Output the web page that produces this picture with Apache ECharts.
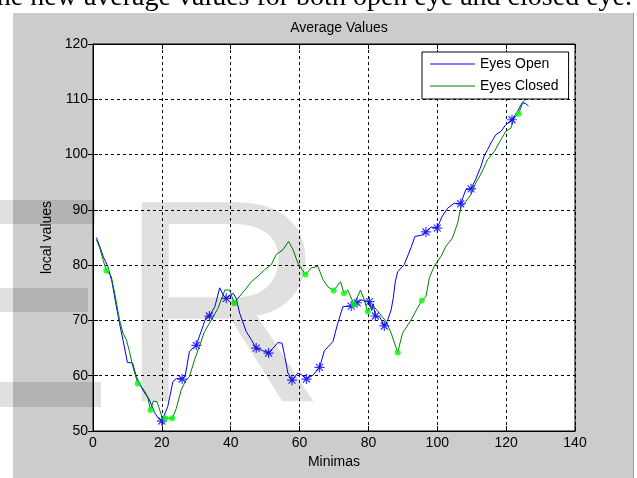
<!DOCTYPE html>
<html>
<head>
<meta charset="utf-8">
<script src="https://cdn.jsdelivr.net/npm/echarts@6/dist/echarts.min.js"></script>
<style>
  html, body { margin: 0; padding: 0; background: #fff; }
  #chart { width: 637px; height: 478px; }
</style>
</head>
<body>
<div id="chart"></div>
<script>
// Axis ranges and ticks
const xTicks = [0, 20, 40, 60, 80, 100, 120, 140];
const yTicks = [50, 60, 70, 80, 90, 100, 110, 120];

// Eyes Open: average value at each minima
const openX = [1,2,3,4.3,5.5,6.5,7.7,8.7,10,11.5,12.6,14.5,16.4,17.9,19,20,21.7,23.2,24.2,25.9,26.8,28,30,31.9,32.9,33.8,35.4,36.8,37.8,38.7,40.7,41.6,42.6,44.5,46,47.4,49,51,52.3,53.7,54.9,55.7,56.6,57.8,59.5,60.5,62,63.9,65.8,67.2,69.7,71.1,72.6,75,76.7,77.9,80.3,81,81.4,82,83.3,84.6,85.6,86.6,87.2,87.8,88.5,90.4,92.4,93.5,95.3,96.7,98.2,100,101.3,103,104.9,106.8,108.3,109.8,111.2,112.7,113.6,114.6,115.6,117,118.5,119.9,121.7,123.3,124.7,125.7,126.5];
const openY = [85,83.3,81.5,79.8,77,73.5,69.5,66.5,62.4,62.3,59.8,57.4,55.6,53.3,52.3,51.8,54.4,58.9,59.5,59.4,60,64.4,65.5,68.9,70.7,70.8,72.5,75.9,74.6,74.0,74.9,74.0,71.3,68.0,66.5,65.0,64.6,64.1,65,66.0,65.9,63.5,60.5,59.2,60.5,60.2,59.4,60.1,61.5,64.5,66.2,69.5,72.5,72.6,73.2,73.7,73.4,71.8,73.0,70.8,70.6,69.0,70.1,71.9,74,77,78.8,80.1,83.2,85.2,85.4,86.0,86.9,86.7,88.7,90.3,91.2,91.1,93.7,93.8,95.6,97.9,99.7,100.9,102.1,103.6,104.2,105.4,106.3,107.8,109.4,109.2,108.8];
// Eyes Open: marked minima
const openMarkX = [20,25.9,30,33.8,38.7,47.4,51,57.8,62,65.8,75,76.7,80.3,82,84.6,96.7,100,106.8,109.8,121.7];
const openMarkY = [51.8,59.4,65.5,70.8,74.0,65.0,64.1,59.2,59.4,61.5,72.6,73.2,73.4,70.8,69.0,86.0,86.7,91.1,93.8,106.3];

// Eyes Closed: average value at each minima
const closedX = [1,2,3,3.9,5.3,6.3,7.7,8.7,9.7,10.6,11.6,13,14.5,15.9,16.7,17.5,18.6,20,21,23,24.2,25.6,27,28,29.5,30.9,32.4,34.4,36.3,38.3,39.7,41,42.1,44.1,46,47.9,49.9,51.8,53.2,55.2,56.8,58.1,59.5,61.7,63.4,65.3,66.8,68.2,69.9,71.9,72.9,74,75.8,77.7,78.8,79.8,81.2,83.2,85.1,86.6,88.5,89.9,92.4,94.3,95.5,96.7,97.7,99.1,101.1,102.5,104.4,105.9,106.9,107.8,109.8,111.2,112.7,114.6,116.5,118.5,119.9,121.4,122.3,123.6,124.7,125.5];
const closedY = [84.6,83,80.8,79.0,78.0,74.9,70.1,67.7,66.5,64.4,61.6,58.6,57.7,56.2,53.8,55.4,55.3,52.6,52.3,52.3,54.1,57.4,59.2,59.8,62.9,65.3,68.0,70.1,72.2,75.5,75.5,73.1,74.0,75.5,77.0,78.0,79.2,80.1,81.9,82.8,84.3,82.8,80.4,78.3,79.5,79.8,77.4,76.1,75.4,77.0,74.9,75.5,72.9,75.5,73.7,71.6,72.8,71.3,69.8,67.7,64.2,67.7,70.1,72.3,73.6,74.3,77.7,79.8,81.6,83.4,84.9,87.6,90.6,91.1,92.8,94.9,96.5,99.1,100.5,102.7,104.2,104.8,106.6,107.4,109.1,110.1];
// Eyes Closed: marked minima
const closedMarkX = [3.9,13,16.7,21,23,41,61.7,69.9,72.9,75.8,79.8,88.5,95.5,123.6];
const closedMarkY = [79.0,58.6,53.8,52.3,52.3,73.1,78.3,75.4,74.9,72.9,71.6,64.2,73.6,107.4];

const zip = (xs, ys) => xs.map((x, i) => [x, ys[i]]);

const FONT = '"Liberation Sans", Arial, Helvetica, sans-serif';
const asterisk = 'path://M5,0L5,10M0,5L10,5M1.5,1.5L8.5,8.5M1.5,8.5L8.5,1.5';
const gridDash = { type: [3, 3], color: '#000', width: 1 };
const BLUE = '#0000ff';
const GREEN = '#008000';

const chart = echarts.init(document.getElementById('chart'), null, { renderer: 'canvas' });

chart.setOption({
  animation: false,
  backgroundColor: '#cccccc',
  textStyle: { fontFamily: FONT },
  title: {
    text: 'Average Values',
    left: 334,
    textAlign: 'center',
    top: 16,
    textStyle: { fontFamily: FONT, fontSize: 14, fontWeight: 'normal', color: '#000' }
  },
  legend: {
    data: [
      { name: 'Eyes Open', icon: 'rect', itemStyle: { color: BLUE } },
      { name: 'Eyes Closed', icon: 'rect', itemStyle: { color: GREEN } }
    ],
    orient: 'vertical',
    left: 422,
    top: 52,
    backgroundColor: '#fff',
    borderColor: '#000',
    borderWidth: 1,
    borderRadius: 0,
    padding: [5, 10, 6, 8],
    itemWidth: 45,
    itemHeight: 1,
    itemGap: 8,
    textStyle: { fontFamily: FONT, fontSize: 14, color: '#000', lineHeight: 14 },
    z: 10
  },
  grid: {
    left: 93, top: 44, right: 62, bottom: 47,
    show: true,
    backgroundColor: '#fff',
    borderColor: '#000',
    borderWidth: 1
  },
  xAxis: [{
    type: 'value', min: xTicks[0], max: xTicks[xTicks.length - 1], interval: 20,
    name: 'Minimas', nameLocation: 'middle', nameGap: 24,
    nameTextStyle: { fontFamily: FONT, fontSize: 14, color: '#000' },
    axisLine: { lineStyle: { color: '#000', width: 1 } },
    axisTick: { inside: true, length: 5, lineStyle: { color: '#000' } },
    axisLabel: { fontFamily: FONT, fontSize: 14, color: '#000', margin: 5 },
    splitLine: { show: true, lineStyle: gridDash }
  }, {
    type: 'value', position: 'top', min: xTicks[0], max: xTicks[xTicks.length - 1], interval: 20,
    axisLine: { lineStyle: { color: '#000', width: 1 } },
    axisTick: { inside: true, length: 5, lineStyle: { color: '#000' } },
    axisLabel: { show: false },
    splitLine: { show: false }
  }],
  yAxis: [{
    type: 'value', min: yTicks[0], max: yTicks[yTicks.length - 1], interval: 10,
    name: 'local values', nameLocation: 'middle', nameGap: 36,
    nameTextStyle: { fontFamily: FONT, fontSize: 14, color: '#000' },
    axisLine: { show: true, lineStyle: { color: '#000', width: 1 } },
    axisTick: { show: true, inside: true, length: 5, lineStyle: { color: '#000' } },
    axisLabel: { fontFamily: FONT, fontSize: 14, color: '#000', margin: 5 },
    splitLine: { show: true, lineStyle: gridDash }
  }, {
    type: 'value', position: 'right', min: yTicks[0], max: yTicks[yTicks.length - 1], interval: 10,
    axisLine: { show: true, lineStyle: { color: '#000', width: 1 } },
    axisTick: { show: true, inside: true, length: 5, lineStyle: { color: '#000' } },
    axisLabel: { show: false },
    splitLine: { show: false }
  }],
  series: [
    {
      name: 'Eyes Open', type: 'line', data: zip(openX, openY),
      symbol: 'none', lineStyle: { color: BLUE, width: 1 }, itemStyle: { color: BLUE }, z: 2
    },
    {
      name: 'Eyes Closed', type: 'line', data: zip(closedX, closedY),
      symbol: 'none', lineStyle: { color: GREEN, width: 1 }, itemStyle: { color: GREEN }, z: 3
    },
    {
      name: 'open-marks', type: 'scatter', data: zip(openMarkX, openMarkY),
      symbol: asterisk, symbolSize: 10,
      itemStyle: { color: BLUE, borderColor: BLUE, borderWidth: 1.2 }, z: 4
    },
    {
      name: 'closed-marks', type: 'scatter', data: zip(closedMarkX, closedMarkY),
      symbol: 'circle', symbolSize: 6,
      itemStyle: { color: '#00ff00' }, z: 5
    }
  ],
  graphic: [
    // white page margins around the figure window
    { type: 'rect', shape: { x: 0, y: 0, width: 13, height: 478 }, style: { fill: '#fff' }, z: 50 },
    { type: 'rect', shape: { x: 0, y: 0, width: 637, height: 13 }, style: { fill: '#fff' }, z: 50 },
    { type: 'rect', shape: { x: 634, y: 0, width: 3, height: 478 }, style: { fill: '#fff' }, z: 50 },
    { type: 'line', shape: { x1: 633.5, y1: 13, x2: 633.5, y2: 478 }, style: { stroke: '#9a9a9a', lineWidth: 1 }, z: 51 },
    // caption line of the surrounding document
    { type: 'text', z: 60, style: {
        text: 'the new average values for both open eye and closed eye.',
        x: 632, y: 12, align: 'right', verticalAlign: 'bottom',
        font: '28px "Liberation Serif", "Times New Roman", serif', fill: '#000' } },
    // translucent watermark
    { type: 'text', z: 100, style: {
        text: 'R', x: 118, y: 466, verticalAlign: 'bottom',
        font: '289px "Liberation Sans", Arial, sans-serif', fill: 'rgba(0,0,0,0.12)' } },
    { type: 'rect', z: 100, shape: { x: 0, y: 200, width: 95, height: 24 }, style: { fill: 'rgba(0,0,0,0.12)' } },
    { type: 'rect', z: 100, shape: { x: 0, y: 288, width: 88, height: 24 }, style: { fill: 'rgba(0,0,0,0.12)' } },
    { type: 'rect', z: 100, shape: { x: 0, y: 382, width: 101, height: 25 }, style: { fill: 'rgba(0,0,0,0.12)' } }
  ]
});
</script>
</body>
</html>
